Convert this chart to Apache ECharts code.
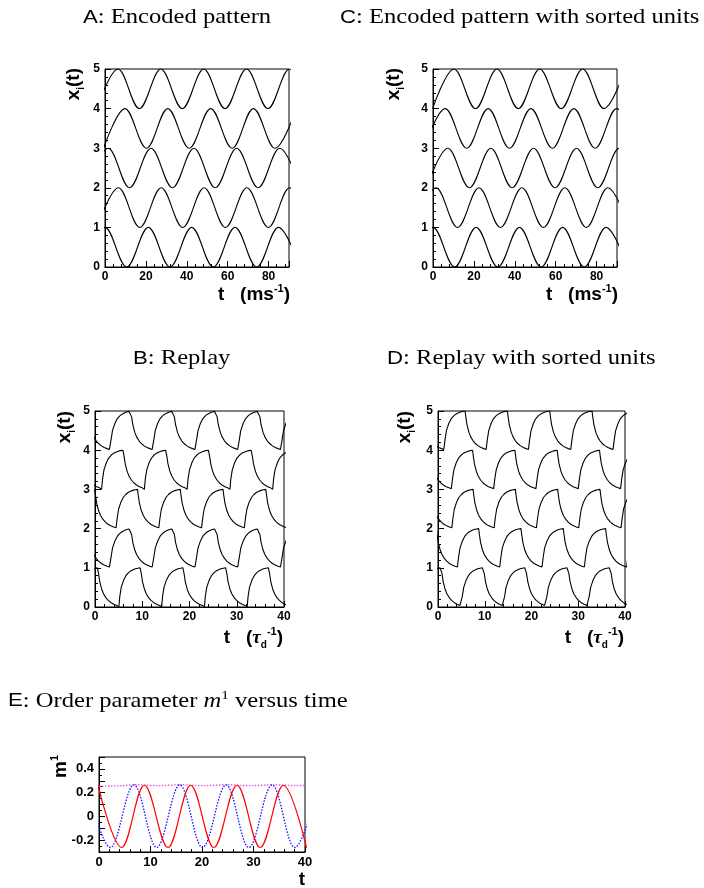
<!DOCTYPE html>
<html>
<head>
<meta charset="utf-8">
<script src="https://cdn.jsdelivr.net/npm/echarts@6/dist/echarts.min.js"></script>
<style>
  html, body { margin: 0; padding: 0; background: #fff; }
  #chart { width: 704px; height: 888px; }
</style>
</head>
<body>
<div id="chart"></div>
<script>
// ---------- data ----------
// A: encoded pattern, times (ms^-1) of the maxima / minima of each unit
const encPeaks = [
  [0.0, 21.2, 42.4, 63.6, 84.8],
  [6.6, 27.5, 48.5, 69.4, 90.3],
  [1.6, 22.5, 43.5, 64.4, 85.4],
  [9.8, 30.7, 51.7, 72.6, 93.6],
  [6.4, 27.3, 48.3, 69.2, 90.2]
];
const encTroughs = [
  [-10.6, 10.6, 31.8, 53.0, 74.2, 95.4],
  [-3.9, 17.0, 38.0, 58.9, 79.9, 100.8],
  [-8.9, 12.0, 33.0, 53.9, 74.9, 95.8],
  [-0.7, 20.3, 41.2, 62.2, 83.1],
  [-4.1, 16.8, 37.8, 58.7, 79.7, 100.6]
];
// C: encoded pattern with sorted units
const sortedPeaks = [
  [0.0, 21.1, 42.3, 63.4, 84.6],
  [1.5, 22.5, 43.5, 64.5, 85.5],
  [7.3, 28.3, 49.2, 70.2, 91.1],
  [6.0, 27.0, 47.9, 68.9, 89.8],
  [10.3, 31.3, 52.2, 73.2, 94.1]
];
const sortedTroughs = [
  [-10.6, 10.6, 31.7, 52.9, 74.0, 95.2],
  [-9.0, 12.0, 33.0, 54.0, 75.0, 96.0],
  [-3.2, 17.8, 38.7, 59.7, 80.6, 101.6],
  [-4.5, 16.5, 37.4, 58.4, 79.3, 100.3],
  [-0.2, 20.8, 41.7, 62.7, 83.6]
];

// B: replay, onset times (tau_d^-1) of the rising and the falling phase of each unit
const replayRise = [
  [-4.0, 5.05, 14.1, 23.15, 32.2],
  [3.2, 12.25, 21.3, 30.35, 39.4],
  [-4.55, 4.5, 13.55, 22.6, 31.65],
  [1.4, 10.45, 19.5, 28.55, 37.6],
  [3.2, 12.25, 21.3, 30.35, 39.4]
];
const replayFall = [
  [0.6, 9.65, 18.7, 27.75, 36.8],
  [-1.45, 7.6, 16.65, 25.7, 34.75],
  [-0.05, 9.0, 18.05, 27.1, 36.15],
  [-3.05, 6.0, 15.05, 24.1, 33.15],
  [-1.45, 7.6, 16.65, 25.7, 34.75]
];
// D: replay with sorted units
const sortedRise = [
  [-4.05, 5.0, 14.05, 23.1, 32.15],
  [-4.85, 4.2, 13.25, 22.3, 31.35, 40.4],
  [3.0, 12.05, 21.1, 30.15, 39.2],
  [2.9, 11.95, 21.0, 30.05, 39.1],
  [1.3, 10.35, 19.4, 28.45, 37.5]
];
const sortedFall = [
  [0.7, 9.75, 18.8, 27.85, 36.9],
  [-0.35, 8.7, 17.75, 26.8, 35.85],
  [-1.55, 7.5, 16.55, 25.6, 34.65],
  [-1.65, 7.4, 16.45, 25.5, 34.55],
  [-3.25, 5.8, 14.85, 23.9, 32.95]
];
// activity profile after the onset of a rising / falling phase: [elapsed time, activity]
const riseShape = [[0, 0], [0.2, 0.27], [0.5, 0.5], [1.0, 0.68], [1.5, 0.8], [2.0, 0.87],
                   [2.5, 0.92], [3.0, 0.95], [3.5, 0.975], [4.0, 0.99], [4.5, 1.0]];
const fallShape = [[0, 1], [0.15, 0.85], [0.4, 0.65], [0.8, 0.46], [1.2, 0.34], [1.7, 0.24],
                   [2.2, 0.17], [2.8, 0.11], [3.4, 0.07], [4.0, 0.04], [4.5, 0.02]];

// E: order parameter components m^1 (maxima / minima) and their envelope
const mRed = [[-0.2, 0.262], [4.4, -0.262], [8.8, 0.262], [13.4, -0.262], [17.8, 0.262],
              [22.3, -0.262], [26.8, 0.262], [31.3, -0.262], [35.8, 0.262], [40.3, -0.262]];
const mBlue = [[-2.3, 0.262], [2.2, -0.262], [6.8, 0.265], [11.2, -0.262], [15.7, 0.265],
               [20.1, -0.262], [24.7, 0.265], [29.1, -0.262], [33.6, 0.265], [38.0, -0.262], [42.6, 0.262]];
const mAmp = [[0, 0.252], [2.2, 0.256], [4.5, 0.258], [7.0, 0.266], [9.0, 0.262], [11.5, 0.259],
              [16.0, 0.267], [18.0, 0.262], [20.5, 0.259], [25.0, 0.267], [27.0, 0.262], [29.5, 0.259],
              [34.0, 0.266], [36.0, 0.262], [38.0, 0.26], [40.0, 0.26]];

const unitRange = [0, 5];
const eYTickLabels = [-0.2, 0, 0.2, 0.4];

// ---------- helpers ----------
function extremaSeries(peaks, troughs, level) {
  const pts = peaks.map(t => [t, level + 1]).concat(troughs.map(t => [t, level]));
  return pts.sort((a, b) => a[0] - b[0]);
}
function phaseSeries(rises, falls, level, tEnd) {
  const ev = rises.map(t => ({ t, shape: riseShape }))
    .concat(falls.map(t => ({ t, shape: fallShape })))
    .sort((a, b) => a.t - b.t);
  const pts = [];
  ev.forEach((e, i) => {
    const stop = i + 1 < ev.length ? ev[i + 1].t : tEnd;
    let last = null;
    e.shape.forEach(([dt, v]) => {
      if (e.t + dt < stop) { pts.push([e.t + dt, level + v]); last = v; }
    });
    if (i + 1 >= ev.length && last !== null) pts.push([tEnd, level + last]);
  });
  return pts;
}

const FONT = '"Liberation Sans", Arial, Helvetica, sans-serif';
const SERIF = '"Liberation Serif", "DejaVu Serif", serif';

function xAxisOf(grid, max, interval, labelSize, hideMax) {
  return {
    type: 'value', gridIndex: grid, min: 0, max, interval,
    axisLine: { show: true, onZero: false, lineStyle: { color: '#000', width: 1 } },
    axisTick: { show: true, inside: true, length: 6, lineStyle: { color: '#000' } },
    minorTick: { show: true, splitNumber: 5, length: 3, lineStyle: { color: '#000' } },
    splitLine: { show: false },
    axisLabel: { color: '#000', fontFamily: FONT, fontWeight: 'bold', fontSize: labelSize, margin: 4,
                 showMaxLabel: !hideMax }
  };
}
function yAxisOf(grid, min, max, interval, labelSize, formatter) {
  return {
    type: 'value', gridIndex: grid, min, max, interval,
    axisLine: { show: true, onZero: false, lineStyle: { color: '#000', width: 1 } },
    axisTick: { show: true, inside: true, length: 6, lineStyle: { color: '#000' } },
    minorTick: { show: true, splitNumber: 5, length: 3, lineStyle: { color: '#000' } },
    splitLine: { show: false },
    axisLabel: { color: '#000', fontFamily: FONT, fontWeight: 'bold', fontSize: labelSize, margin: 5,
                 formatter: formatter || (v => String(v)) }
  };
}

const grids = [
  { left: 105, top: 69, width: 184, height: 198 },   // A
  { left: 433, top: 69, width: 184, height: 198 },   // C
  { left: 95, top: 411, width: 189, height: 196 },   // B
  { left: 438, top: 411, width: 187, height: 196 },  // D
  { left: 99, top: 757, width: 206, height: 95 }     // E
].map(g => Object.assign({ show: true, borderColor: '#000', borderWidth: 1, backgroundColor: '#fff' }, g));

const series = [];
function unitLine(gridIdx, data, smooth) {
  series.push({
    type: 'line', xAxisIndex: gridIdx, yAxisIndex: gridIdx, data,
    showSymbol: false, symbol: 'none', silent: true, clip: true,
    smooth: smooth ? 0.36 : false, smoothMonotone: 'x',
    lineStyle: { color: '#000', width: 1.1 }
  });
}
for (let u = 0; u < 5; u++) {
  unitLine(0, extremaSeries(encPeaks[u], encTroughs[u], u), true);
  unitLine(1, extremaSeries(sortedPeaks[u], sortedTroughs[u], u), true);
  unitLine(2, phaseSeries(replayRise[u], replayFall[u], u, 41), false);
  unitLine(3, phaseSeries(sortedRise[u], sortedFall[u], u, 41), false);
}
series.push({
  type: 'line', xAxisIndex: 4, yAxisIndex: 4, data: mAmp, showSymbol: false, symbol: 'none',
  silent: true, clip: true, smooth: 0.3, lineStyle: { color: '#e35be8', width: 1.4, type: [1.5, 1.5] }
});
series.push({
  type: 'line', xAxisIndex: 4, yAxisIndex: 4, data: mBlue, showSymbol: false, symbol: 'none',
  silent: true, clip: true, smooth: 0.36, smoothMonotone: 'x',
  lineStyle: { color: '#1010ff', width: 1.3, type: [1.5, 1.5] }
});
series.push({
  type: 'line', xAxisIndex: 4, yAxisIndex: 4, data: mRed, showSymbol: false, symbol: 'none',
  silent: true, clip: true, smooth: 0.36, smoothMonotone: 'x',
  lineStyle: { color: '#ff0000', width: 1.2 }
});

// ---------- texts ----------
const titleRich = {
  l: { fontFamily: FONT, fontSize: 19, color: '#1a1a1a' },
  r: { fontFamily: SERIF, fontSize: 21, color: '#1a1a1a' },
  i: { fontFamily: SERIF, fontSize: 21, fontStyle: 'italic', color: '#1a1a1a' },
  sup: { fontFamily: SERIF, fontSize: 13, color: '#1a1a1a', verticalAlign: 'top', lineHeight: 24 }
};
function title(x, y, content) {
  return { type: 'text', x, y, scaleX: 1.17, scaleY: 1,
           style: { text: content, rich: titleRich, align: 'left', verticalAlign: 'top' } };
}
const axRich = {
  a: { fontFamily: FONT, fontSize: 19, fontWeight: 'bold', color: '#000', lineHeight: 24 },
  g: { fontFamily: SERIF, fontSize: 19, fontStyle: 'italic', fontWeight: 'bold', color: '#000', lineHeight: 24 },
  sub: { fontFamily: FONT, fontSize: 10, fontWeight: 'bold', color: '#000', verticalAlign: 'bottom', lineHeight: 22 },
  sup: { fontFamily: FONT, fontSize: 11, fontWeight: 'bold', color: '#000', verticalAlign: 'top', lineHeight: 24 }
};
function xName(x, y, content) {
  return { type: 'text', x, y, style: { text: content, rich: axRich, align: 'right', verticalAlign: 'middle' } };
}
function yName(x, y, content) {
  return { type: 'text', x, y, rotation: Math.PI / 2,
           style: { text: content, rich: axRich, align: 'right', verticalAlign: 'middle' } };
}
const msUnit = '{a|t   (ms}{sup|-1}{a|)}';
const tauUnit = '{a|t   (}{g|τ}{sub|d}{sup|-1}{a|)}';
const xiName = '{a|x}{sub|i}{a|(t)}';

const graphic = [
  title(83, 7, '{l|A}{r|: Encoded pattern}'),
  title(340, 7, '{l|C}{r|: Encoded pattern with sorted units}'),
  title(133, 348, '{l|B}{r|: Replay}'),
  title(387, 348, '{l|D}{r|: Replay with sorted units}'),
  title(8, 689, '{l|E}{r|: Order parameter }{i|m}{sup|1}{r| versus time}'),
  xName(290, 295, msUnit),
  xName(618, 295, msUnit),
  xName(283, 638, tauUnit),
  xName(624, 638, tauUnit),
  xName(305, 880, '{a|t}'),
  yName(74, 68, xiName),
  yName(394, 68, xiName),
  yName(65, 411, xiName),
  yName(405, 411, xiName),
  yName(61, 755, '{a|m}{sup|1}')
];

const option = {
  animation: false,
  backgroundColor: '#fff',
  grid: grids,
  xAxis: [xAxisOf(0, 90, 20, 12, true), xAxisOf(1, 90, 20, 12, true),
          xAxisOf(2, 40, 10, 12, false), xAxisOf(3, 40, 10, 12, false), xAxisOf(4, 40, 10, 13, false)],
  yAxis: [
    yAxisOf(0, unitRange[0], unitRange[1], 1, 12),
    yAxisOf(1, unitRange[0], unitRange[1], 1, 12),
    yAxisOf(2, unitRange[0], unitRange[1], 1, 12),
    yAxisOf(3, unitRange[0], unitRange[1], 1, 12),
    yAxisOf(4, -0.3, 0.5, 0.1, 13, v => {
      const hit = eYTickLabels.find(l => Math.abs(l - v) < 1e-6);
      return hit === undefined ? '' : (hit === 0 ? '0' : String(hit));
    })
  ],
  series,
  graphic
};
option.yAxis[4].minorTick.splitNumber = 2;

const chart = echarts.init(document.getElementById('chart'), null, { renderer: 'canvas' });
chart.setOption(option);
</script>
</body>
</html>
